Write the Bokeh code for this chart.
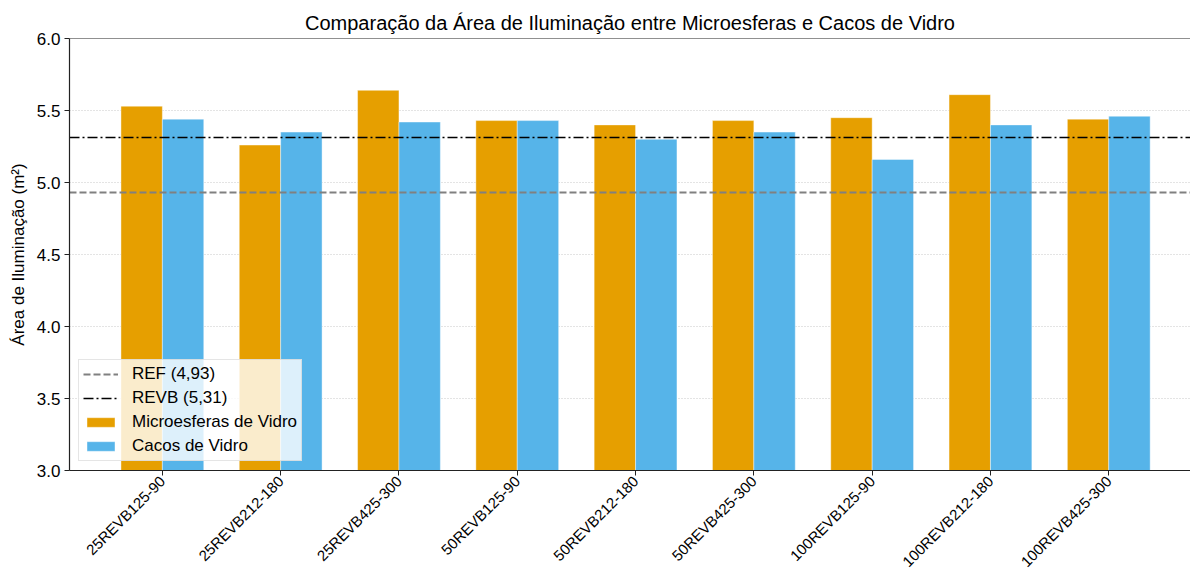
import math
from bokeh.plotting import figure
from bokeh.models import (Range1d, FixedTicker, Legend, LegendItem,
                          ColumnDataSource, Title, NumeralTickFormatter, Span)
from bokeh.transform import dodge
from bokeh.embed import file_html
from bokeh.resources import INLINE

categories = ["25REVB125-90", "25REVB212-180", "25REVB425-300",
              "50REVB125-90", "50REVB212-180", "50REVB425-300",
              "100REVB125-90", "100REVB212-180", "100REVB425-300"]
microesferas = [5.53, 5.26, 5.64, 5.43, 5.40, 5.43, 5.45, 5.61, 5.44]
cacos = [5.44, 5.35, 5.42, 5.43, 5.30, 5.35, 5.16, 5.40, 5.46]
ref_value = 4.93
revb_value = 5.31
ref_label = "REF (4,93)"
revb_label = "REVB (5,31)"
y_ticks = [3.0, 3.5, 4.0, 4.5, 5.0, 5.5, 6.0]

FONT = "Liberation Sans"
ORANGE = "#E69F00"
BLUE = "#56B4E9"
REF_DASH = "7 3"
REVB_DASH = "10 3 2 3"

idx = list(range(len(categories)))
src = ColumnDataSource(dict(x=idx, micro=microesferas, cacos=cacos))

p = figure(width=1190, height=582, output_backend="svg", toolbar_location=None,
           x_range=Range1d(-0.785, 8.691), y_range=Range1d(3.0, 6.0),
           min_border_left=69, min_border_right=0, min_border_top=38,
           min_border_bottom=112)
p.title = Title(text="Comparação da Área de Iluminação entre Microesferas e Cacos de Vidro",
                align="center", text_font=FONT, text_font_size="20px",
                text_font_style="normal", text_color="#000000", standoff=9)
p.outline_line_color = None
p.background_fill_color = "white"
p.border_fill_color = "white"

bar_w = 0.35
r_micro = p.vbar(x=dodge("x", -bar_w / 2), top="micro", bottom=0, width=bar_w,
                 source=src, fill_color=ORANGE, line_color="white",
                 line_alpha=0.6, line_width=0.7)
r_cacos = p.vbar(x=dodge("x", bar_w / 2), top="cacos", bottom=0, width=bar_w,
                 source=src, fill_color=BLUE, line_color="white",
                 line_alpha=0.6, line_width=0.7)

r_ref = p.hspan(y=[ref_value], line_color="#808080", line_width=2,
                line_dash=REF_DASH)
r_revb = p.hspan(y=[revb_value], line_color="black", line_width=1.5,
                 line_dash=REVB_DASH)

top_spine = Span(location=6.0, dimension="width", line_color="#222222",
                 line_width=1.2)
p.add_layout(top_spine)

legend = Legend(items=[LegendItem(label=ref_label, renderers=[r_ref]),
                       LegendItem(label=revb_label, renderers=[r_revb]),
                       LegendItem(label="Microesferas de Vidro", renderers=[r_micro]),
                       LegendItem(label="Cacos de Vidro", renderers=[r_cacos])],
                location="bottom_left", margin=9, padding=4, spacing=4,
                glyph_width=35, glyph_height=12, label_height=20,
                label_standoff=14, label_text_font=FONT,
                label_text_font_size="17px", label_text_color="#000000",
                background_fill_color="white", background_fill_alpha=0.8,
                border_line_color="#cccccc", border_line_width=1)
p.add_layout(legend, "center")

# axes
p.xaxis.ticker = FixedTicker(ticks=idx)
p.xaxis.major_label_overrides = {i: c for i, c in zip(idx, categories)}
p.xaxis.major_label_orientation = math.pi / 4
p.yaxis.ticker = FixedTicker(ticks=y_ticks)
p.yaxis.formatter = NumeralTickFormatter(format="0.0")
p.yaxis.axis_label = "Área de Iluminação (m²)"
for ax in (p.xaxis, p.yaxis):
    ax.major_label_text_font = FONT
    ax.major_label_text_color = "#000000"
    ax.axis_line_color = "#222222"
    ax.axis_line_width = 1.2
    ax.major_tick_line_color = "#222222"
    ax.major_tick_out = 5
    ax.major_tick_in = 0
    ax.minor_tick_line_color = None
p.xaxis.major_label_text_font_size = "15px"
p.xaxis.major_label_standoff = 3
p.yaxis.major_label_text_font_size = "17px"
p.yaxis.axis_label_text_font = FONT
p.yaxis.axis_label_text_font_size = "17px"
p.yaxis.axis_label_text_font_style = "normal"
p.yaxis.axis_label_text_color = "#000000"
p.yaxis.major_label_standoff = 4
p.yaxis.axis_label_standoff = 6

p.xgrid.grid_line_color = None
p.ygrid.ticker = FixedTicker(ticks=y_ticks)
p.ygrid.grid_line_color = "#bbbbbb"
p.ygrid.grid_line_dash = "1 2"
p.ygrid.grid_line_alpha = 0.8
p.ygrid.level = "underlay"

open("out.html", "w").write(file_html(p, INLINE))
